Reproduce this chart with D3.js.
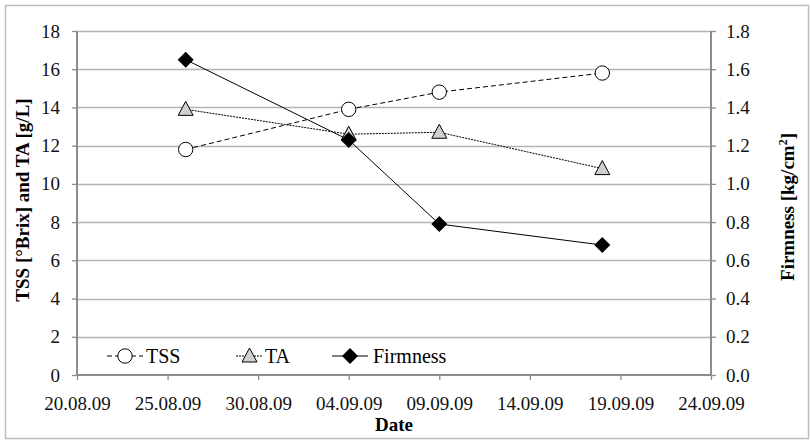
<!DOCTYPE html>
<html><head><meta charset="utf-8">
<script src="https://cdn.jsdelivr.net/npm/d3@7/dist/d3.min.js"></script>
<style>body{margin:0;background:#fff}svg{display:block}svg text{font-family:"Liberation Serif","Times New Roman",serif !important}</style>
</head><body><svg id="c" width="810" height="441" font-family="Liberation Serif"></svg>
<script>
const dates = ["2009-08-26","2009-09-04","2009-09-09","2009-09-18"];
const tss = [11.8, 13.9, 14.8, 15.8];
const ta = [13.9, 12.6, 12.7, 10.8];
const firmness = [1.65, 1.23, 0.79, 0.68];
const xTickDates = ["2009-08-20","2009-08-25","2009-08-30","2009-09-04","2009-09-09","2009-09-14","2009-09-19","2009-09-24"];
const leftTicks = [0,2,4,6,8,10,12,14,16,18];
const rightTicks = [0,0.2,0.4,0.6,0.8,1.0,1.2,1.4,1.6,1.8];

const SERIF = "Liberation Serif";
const parse = d3.timeParse("%Y-%m-%d");
const svg = d3.select("#c");
const L = 77, R = 711, T = 31, B = 375;
const x = d3.scaleTime().domain([parse(xTickDates[0]), parse(xTickDates[xTickDates.length-1])]).range([L, R]);
const yL = d3.scaleLinear().domain([0,18]).range([B, T]);
const yR = d3.scaleLinear().domain([0,1.8]).range([B, T]);

svg.append("rect").attr("x",5.5).attr("y",5.5).attr("width",803).attr("height",433)
  .attr("fill","#fff").attr("stroke","#bdbdbd").attr("stroke-width",1.5);

// gridlines
svg.append("g").selectAll("line").data(leftTicks.slice(1)).join("line")
  .attr("x1",L).attr("x2",R).attr("y1",d=>Math.round(yL(d))+0.5).attr("y2",d=>Math.round(yL(d))+0.5)
  .attr("stroke","#b3b3b3").attr("stroke-width",1.3);

const axisColor = "#8c8c8c";
const fs = "19px";
const gl = svg.append("g").attr("transform",`translate(${L},0)`)
  .call(d3.axisLeft(yL).tickValues(leftTicks).tickSize(5).tickPadding(12).tickFormat(d3.format("d")));
const gr = svg.append("g").attr("transform",`translate(${R},0)`)
  .call(d3.axisRight(yR).tickValues(rightTicks).tickSize(5).tickPadding(10).tickFormat(d3.format(".1f")));
const gb = svg.append("g").attr("transform",`translate(0,${B})`)
  .call(d3.axisBottom(x).tickValues(xTickDates.map(parse)).tickSize(5).tickPadding(17).tickFormat(d3.timeFormat("%d.%m.%y")));
[gl,gr,gb].forEach(g=>{
  g.attr("font-family",SERIF).attr("font-size",19);
  g.select(".domain").attr("stroke",axisColor).attr("stroke-width",2);
  g.selectAll(".tick line").attr("stroke",axisColor).attr("stroke-width",1.3);
  g.selectAll(".tick text").attr("fill","#111").attr("font-family",SERIF).style("font-size",fs);
});
gb.select(".domain").attr("d",`M${L},0H${R}`);
gl.select(".domain").attr("d",`M0,${B}V${T}`);
gr.select(".domain").attr("d",`M0,${B}V${T}`);

// axis titles
svg.append("text").attr("transform",`translate(29,${(T+B)/2-3}) rotate(-90)`).attr("text-anchor","middle")
  .attr("font-family",SERIF).style("font-size","19px").style("font-weight","bold").text("TSS [°Brix] and TA [g/L]");
const rt = svg.append("text").attr("transform",`translate(794,${(T+B)/2+4}) rotate(-90)`).attr("text-anchor","middle")
  .attr("font-family",SERIF).style("font-size","19px").style("font-weight","bold");
rt.append("tspan").text("Firmness [kg/cm");
rt.append("tspan").attr("dy",-7).style("font-size","12px").text("2");
rt.append("tspan").attr("dy",7).text("]");
svg.append("text").attr("x",(L+R)/2).attr("y",431).attr("text-anchor","middle")
  .attr("font-family",SERIF).style("font-size","19px").style("font-weight","bold").text("Date");

const pts = dates.map(parse);
const series = [
  {name:"TSS", vals:tss, y:yL, dash:"5,3", marker:"circle"},
  {name:"TA", vals:ta, y:yL, dash:"2,1", marker:"triangle"},
  {name:"Firmness", vals:firmness, y:yR, dash:null, marker:"diamond"}
];
function drawMarker(g, type, cx, cy){
  if(type==="circle"){
    g.append("circle").attr("cx",cx).attr("cy",cy).attr("r",7.2).attr("fill","#fff").attr("stroke","#000").attr("stroke-width",1);
  } else if(type==="triangle"){
    g.append("path").attr("d",`M${cx},${cy-8}L${cx+7.5},${cy+6}L${cx-7.5},${cy+6}Z`).attr("fill","#d0d0d0").attr("stroke","#000").attr("stroke-width",1);
  } else {
    g.append("path").attr("d",`M${cx},${cy-8}L${cx+8},${cy}L${cx},${cy+8}L${cx-8},${cy}Z`).attr("fill","#000");
  }
}
series.forEach(s=>{
  const line = d3.line().x((d,i)=>x(pts[i])).y(d=>s.y(d));
  svg.append("path").datum(s.vals).attr("d",line).attr("fill","none").attr("stroke","#000").attr("stroke-width",1)
    .attr("stroke-dasharray",s.dash);
});
series.forEach(s=>{
  const g = svg.append("g");
  s.vals.forEach((v,i)=>drawMarker(g,s.marker,x(pts[i]),s.y(v)));
});

// legend
const legY = 356;
const legend = [
  {s:series[0], x0:107, x1:143, tx:146},
  {s:series[1], x0:236, x1:263, tx:265},
  {s:series[2], x0:332, x1:368, tx:373}
];
legend.forEach(l=>{
  svg.append("line").attr("x1",l.x0).attr("x2",l.x1).attr("y1",legY).attr("y2",legY)
    .attr("stroke","#000").attr("stroke-width",1).attr("stroke-dasharray",l.s.dash);
  drawMarker(svg,l.s.marker,(l.x0+l.x1)/2,legY);
  svg.append("text").attr("x",l.tx).attr("y",legY+7).attr("font-family",SERIF).style("font-size","20px").text(l.s.name);
});
</script></body></html>
